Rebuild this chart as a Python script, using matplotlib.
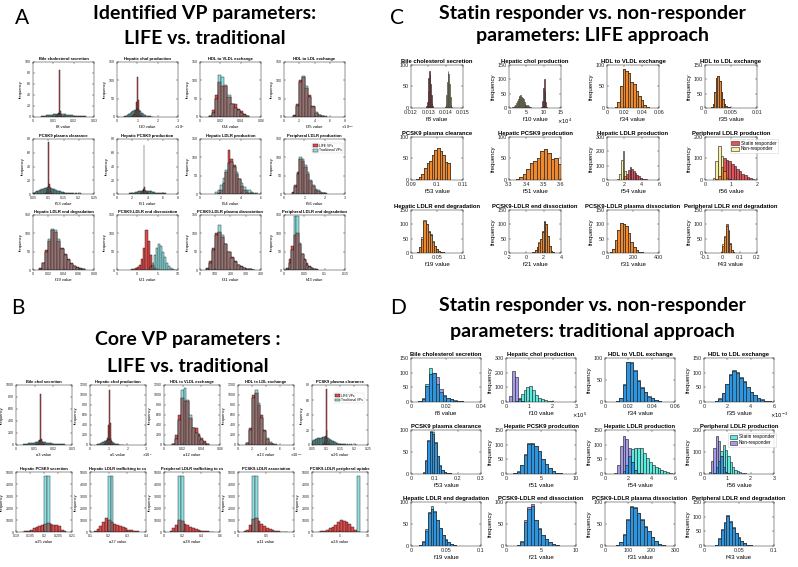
import numpy as np
import matplotlib
matplotlib.use('Agg')
import matplotlib.pyplot as plt
from matplotlib.patches import Patch

plt.rcParams['font.family'] = 'Liberation Sans'

# Figure size in pixels
W, H = 798, 567

# ---------------------------------------------------------------------------
# Panel A: identified VP parameters, LIFE (red) vs traditional (cyan)
# bins are (first edge, bin width)
# ---------------------------------------------------------------------------
a_titles = ['Bile cholesterol secretion', 'Hepatic chol production', 'HDL to VLDL exchange',
            'HDL to LDL exchange', 'PCSK9 plasma clearance', 'Hepatic PCSK9 production',
            'Hepatic LDLR production', 'Peripheral LDLR production', 'Hepatic LDLR end degradation',
            'PCSK9-LDLR end dissociation', 'PCSK9-LDLR plasma dissociation',
            'Peripheral LDLR end degradation']
a_xlabels = ['f8 value', 'f10 value', 'f34 value', 'f35 value', 'f53 value', 'f51 value',
             'f54 value', 'f56 value', 'f19 value', 'f21 value', 'f31 value', 'f43 value']
a_xticks = [[0, 0.01, 0.02, 0.03], [0, 1, 2, 3], [0, 0.02, 0.04, 0.06], [0, 2, 4, 6, 8],
            [0.05, 0.1, 0.15, 0.2, 0.25], [0, 2, 4, 6, 8], [0, 2, 4, 6], [0, 1, 2, 3],
            [0, 0.02, 0.04, 0.06, 0.08], [-5, 0, 5, 10], [0, 100, 200, 300, 400],
            [0, 0.05, 0.1, 0.15]]
a_yticks = [[0, 20, 40, 60, 80, 100], [0, 50, 100, 150], [0, 50, 100, 150], [0, 50, 100, 150],
            [0, 20, 40, 60, 80], [0, 20, 40, 60, 80], [0, 50, 100, 150], [0, 50, 100, 150],
            [0, 50, 100, 150], [0, 50, 100, 150], [0, 50, 100, 150], [0, 50, 100, 150]]
a_exps = [None, '5', None, '-3', None, None, None, None, None, None, None, None]
a_bins = [(0.004, 0.0005), (0.3, 0.05), (0.009, 0.003), (1.2, 0.4), (0.05, 0.0025), (1.6, 0.1),
          (1.5, 0.25), (0.375, 0.125), (0.008, 0.004), (-1.5, 0.5), (40, 20), (0.006, 0.006)]

a1_life = [0] * 14 + [1, 2, 4, 8, 85, 10, 4, 2, 1] + [0] * 21
a1_trad = [1, 1, 2, 2, 2, 3, 3, 3, 3, 4, 4, 4, 5, 5, 5, 5, 6, 6, 6, 6, 5, 5,
           5, 5, 4, 4, 4, 3, 3, 3, 3, 2, 2, 2, 2, 2, 1, 1, 1, 1, 1, 1, 1, 1]
a2_life = [0, 0, 0, 0, 0, 0, 0, 0, 0, 2, 5, 8, 15, 40, 110, 45, 15, 6, 3, 1,
           0, 0, 0, 0, 0, 0, 0, 0, 0, 0]
a2_trad = [1, 2, 3, 4, 5, 7, 9, 11, 13, 15, 16, 18, 19, 20, 21, 19, 17, 15, 12, 10,
           8, 6, 5, 4, 3, 2, 2, 1, 1, 1]
a3_life = [3, 20, 60, 95, 85, 85, 55, 35, 35, 22, 15, 8, 3]
a3_trad = [2, 12, 50, 115, 110, 88, 60, 35, 25, 18, 10, 5, 2]
a4_life = [5, 35, 100, 110, 80, 60, 30, 12, 5, 3, 1]
a4_trad = [4, 30, 95, 112, 85, 55, 28, 14, 6, 3, 2]
a5_life = [0] * 16 + [1, 2, 4, 8, 75, 15, 5, 2, 1] + [0] * 39
a5_trad = [2, 2, 3, 3, 4, 4, 5, 5, 6, 6, 7, 7, 8, 8, 8, 9, 9, 9, 10, 10, 10, 10,
           9, 9, 9, 8, 8, 7, 7, 6, 6, 5, 5, 5, 4, 4, 4, 3, 3, 3, 3, 2, 2, 2,
           2, 2, 1, 1, 1, 1, 1, 1, 1, 1, 0, 1, 0, 1, 0, 1, 0, 0, 1, 0]
a6_life = [0] * 15 + [1, 2, 4, 8, 72, 10, 4, 2, 1] + [0] * 24
a6_trad = [1, 1, 1, 2, 2, 2, 2, 3, 3, 3, 3, 4, 4, 4, 4, 5, 5, 5, 5, 6, 6, 5, 5, 5,
           5, 5, 4, 4, 4, 4, 3, 3, 3, 3, 2, 2, 2, 2, 2, 2, 1, 1, 1, 1, 1, 1, 1, 1]
a7_life = [0, 2, 10, 30, 60, 120, 95, 80, 55, 40, 22, 10, 5, 3, 2, 1, 0]
a7_trad = [5, 12, 25, 45, 65, 85, 88, 75, 60, 42, 30, 20, 12, 10, 6, 4, 2]
a8_life = [5, 25, 60, 95, 90, 75, 55, 35, 22, 12, 8, 4, 2, 1]
a8_trad = [3, 20, 55, 100, 95, 80, 60, 38, 25, 15, 10, 5, 3, 2]
a9_life = [5, 20, 55, 80, 110, 105, 80, 60, 45, 30, 20, 12, 8, 5, 3]
a9_trad = [3, 18, 50, 85, 112, 110, 85, 58, 40, 28, 16, 10, 5, 3, 2]
a10_life = [2, 3, 5, 8, 15, 30, 60, 110, 80, 40, 15, 5, 0, 0, 0, 0, 0, 0, 0, 0, 0, 0]
a10_trad = [0, 0, 0, 0, 0, 0, 0, 0, 0, 8, 20, 40, 60, 72, 65, 50, 35, 20, 10, 5, 3, 1]
a11_life = [5, 25, 60, 100, 105, 90, 70, 50, 35, 25, 15, 10, 6, 4, 2, 1]
a11_trad = [3, 20, 55, 95, 122, 95, 70, 50, 32, 22, 14, 8, 5, 3, 2, 1]
a12_life = [5, 30, 65, 95, 100, 70, 45, 30, 18, 10, 6, 4, 2]
a12_trad = [3, 20, 55, 148, 148, 75, 45, 28, 15, 8, 5, 3, 1]

# ---------------------------------------------------------------------------
# Panel B: core VP parameters
# ---------------------------------------------------------------------------
b_titles = ['Bile chol secretion', 'Hepatic chol production', 'HDL to VLDL exchange',
            'HDL to LDL exchange', 'PCSK9 plasma clearance', 'Hepatic PCSK9 secretion',
            'Hepatic LDLR trafficking to cs', 'Peripheral LDLR trafficking to cs',
            'PCSK9-LDLR association', 'PCSK9-LDLR peripheral uptake']
b_xlabels = ['a3 value', 'a5 value', 'a12 value', 'a13 value', 'a26 value',
             'a25 value', 'a27 value', 'a28 value', 'a11 value', 'a24 value']
b_xticks = [[0, 0.01, 0.02, 0.03], [0, 1, 2, 3], [0, 0.02, 0.04, 0.06], [0, 2, 4, 6, 8],
            [0.05, 0.1, 0.15, 0.2, 0.25], [0.19, 0.195, 0.2, 0.205, 0.21], [0.1, 0.2, 0.3, 0.4],
            [0, 0.2, 0.4, 0.6], [0, 0.5, 1], [0, 5, 10]]
b_yticks = [[0, 200, 400, 600, 800, 1000], [0, 200, 400, 600, 800, 1000, 1200],
            [0, 200, 400, 600, 800, 1000, 1200], [0, 200, 400, 600, 800, 1000, 1200],
            [0, 20, 40, 60, 80]] + [[0, 1000, 2000, 3000, 4000, 5000]] * 5
b_exps = [None, '5', None, '-3', None, None, None, None, None, None]
b_bins = [(0.004, 0.0005), (0.3, 0.05), (0.009, 0.003), (1.2, 0.4), (0.05, 0.0025),
          (0.192, 0.001), (0.12, 0.015), (0.06, 0.03), (0.1, 0.05), (0, 0.5)]

b1_life = [0] * 14 + [10, 20, 40, 80, 850, 100, 40, 20, 10] + [0] * 21
b1_trad = [10, 10, 20, 20, 20, 30, 30, 30, 30, 40, 40, 40, 50, 50, 50, 50, 60, 60, 60, 60, 50, 50,
           50, 50, 40, 40, 40, 30, 30, 30, 30, 20, 20, 20, 20, 20, 10, 10, 10, 10, 10, 10, 10, 10]
b2_life = [0, 0, 0, 0, 0, 0, 0, 0, 0, 20, 50, 80, 150, 400, 1100, 450, 150, 60, 30, 10,
           0, 0, 0, 0, 0, 0, 0, 0, 0, 0]
b2_trad = [5, 10, 15, 20, 25, 35, 45, 55, 65, 75, 80, 90, 95, 100, 105, 95, 85, 75, 60, 50,
           40, 30, 25, 20, 15, 10, 10, 5, 5, 5]
b3_life = [30, 200, 600, 950, 880, 880, 550, 350, 350, 220, 150, 80, 30]
b3_trad = [20, 120, 500, 1100, 1150, 900, 600, 350, 250, 180, 100, 50, 20]
b4_life = [50, 350, 1000, 1050, 800, 600, 300, 120, 50, 30, 10]
b4_trad = [40, 300, 950, 1100, 850, 550, 280, 140, 60, 30, 20]
b5_life = [0] * 16 + [1, 3, 6, 12, 75, 20, 6, 2, 1] + [0] * 39
b5_trad = [6, 6, 7, 7, 8, 8, 8, 9, 9, 9, 10, 10, 10, 10, 11, 11, 11, 11, 11, 11, 10, 10,
           9, 9, 8, 8, 7, 7, 6, 6, 5, 5, 4, 4, 3, 3, 3, 2, 2, 2, 2, 2, 1, 1,
           1, 1, 1, 1, 1, 0, 1, 0, 0, 1, 0, 0, 1, 0, 0, 0, 0, 0, 1, 0]
b6_life = [30, 60, 120, 200, 300, 400, 500, 600, 700, 750, 650, 550, 580, 500, 200, 50]
b6_trad = [0, 0, 0, 0, 0, 0, 0, 0, 4700, 4700, 0, 0, 0, 0, 0, 0]
b7_life = [100, 250, 500, 800, 1200, 1000, 800, 650, 600, 500, 400, 300, 200, 150, 100, 50]
b7_trad = [0, 0, 0, 0, 0, 4700, 4700, 0, 0, 0, 0, 0, 0, 0, 0, 0]
b8_life = [100, 300, 600, 1000, 950, 700, 550, 400, 300, 250, 180, 120, 80, 50, 30, 20]
b8_trad = [0, 0, 0, 4700, 4700, 0, 0, 0, 0, 0, 0, 0, 0, 0, 0, 0]
b9_life = [50, 200, 600, 1100, 1200, 900, 700, 500, 350, 250, 150, 100, 60, 40, 20, 10]
b9_trad = [0, 0, 0, 4700, 4700, 0, 0, 0, 0, 0, 0, 0, 0, 0, 0, 0]
b10_life = [0, 0, 20, 50, 100, 200, 300, 450, 600, 800, 1000, 950, 850, 700, 400, 150, 30, 0, 0, 0]
b10_trad = [0, 0, 0, 0, 0, 0, 0, 0, 0, 0, 0, 0, 0, 0, 0, 0, 4700, 0, 0, 0]

# ---------------------------------------------------------------------------
# Panels C and D: statin responder vs non-responder
# ---------------------------------------------------------------------------
cd_titles = ['Bile cholesterol secretion', 'Hepatic chol production', 'HDL to VLDL exchange',
             'HDL to LDL exchange', 'PCSK9 plasma clearance', 'Hepatic PCSK9 prodcution',
             'Hepatic LDLR production', 'Peripheral LDLR production',
             'Hepatic LDLR end degradation', 'PCSK9-LDLR end dissociation',
             'PCSK9-LDLR plasma dissociation', 'Peripheral LDLR end degradation']
cd_xlabels = a_xlabels

c_xticks = [[0.012, 0.013, 0.014, 0.015], [0, 5, 10, 15], [0, 0.02, 0.04, 0.06], [0, 0.005, 0.01],
            [0.09, 0.1, 0.11], [3.3, 3.4, 3.5, 3.6], [0, 2, 4, 6], [0, 1, 2],
            [0, 0.05, 0.1], [-2, 0, 2, 4], [0, 200, 400], [-0.1, 0, 0.1, 0.2]]
c_yticks = [[0, 50, 100], [0, 50, 100, 150], [0, 50, 100], [0, 50, 100, 150],
            [0, 50, 100], [0, 50, 100], [0, 100, 200, 300], [0, 100, 200],
            [0, 50, 100, 150], [0, 50, 100, 150], [0, 50, 100, 150], [0, 50, 100, 150]]
c_exps = [None, '4', None, None, None, None, None, None, None, None, None, None]
c_bins = [(0.01284, 0.00004), (1.0, 0.25), (0.009, 0.003), (0.0012, 0.0003), (0.092, 0.001),
          (3.34, 0.02), (1.2, 0.2), (0.3, 0.1), (0.012, 0.004), (0.6, 0.2), (20, 20),
          (-0.01, 0.01)]

c1_res = [2, 5, 15, 40, 70, 85, 80, 55, 30, 12, 4] + [0] * 27
c1_non = [0] * 28 + [3, 10, 30, 60, 85, 80, 55, 25, 8, 2]
c2_res = [0] * 33 + [5, 25, 70, 100, 60, 20, 5]
c2_non = [2, 4, 8, 12, 18, 25, 30, 38, 42, 45, 40, 35, 30, 20, 15, 12, 8, 10, 8, 4, 2, 1] + [0] * 18
c3_res = [2, 15, 50, 90, 85, 82, 60, 55, 40, 28, 18, 8, 3]
c3_non = [2, 15, 50, 90, 85, 82, 60, 55, 40, 28, 18, 8, 3]
c4_res = [3, 15, 55, 105, 112, 95, 55, 30, 15, 8, 5, 3, 1]
c4_non = [3, 15, 55, 105, 112, 95, 55, 30, 15, 8, 5, 3, 1]
c5_res = [3, 8, 15, 28, 40, 45, 58, 70, 75, 68, 58, 42, 40]
c5_non = [3, 8, 15, 28, 40, 45, 58, 70, 75, 68, 58, 42, 40]
c6_res = [3, 8, 15, 25, 40, 45, 50, 68, 72, 62, 48, 52, 38]
c6_non = [3, 8, 15, 25, 40, 45, 50, 68, 72, 62, 48, 52, 38]
c7_res = [0, 0, 0, 5, 25, 45, 70, 90, 80, 65, 50, 35, 25, 15, 10, 6, 4, 2]
c7_non = [10, 40, 140, 200, 60, 15, 3] + [0] * 11
c8_res = [0, 5, 20, 60, 100, 95, 90, 75, 65, 50, 40, 30, 22, 15, 10, 5]
c8_non = [10, 90, 160, 110, 40, 10, 3] + [0] * 9
c9_res = [5, 20, 50, 110, 100, 75, 65, 40, 25, 15, 8, 5, 3, 1]
c9_non = [5, 22, 55, 115, 100, 72, 62, 42, 25, 14, 8, 5, 3, 1]
c10_res = [2, 5, 10, 20, 35, 50, 75, 110, 100, 60, 25, 8, 3]
c10_non = [2, 5, 12, 22, 38, 48, 72, 108, 100, 58, 25, 8, 3]
c11_res = [3, 15, 45, 80, 105, 100, 95, 70, 40, 20, 10, 5, 2]
c11_non = [3, 15, 45, 80, 105, 100, 95, 70, 40, 20, 10, 5, 2]
c12_res = [3, 25, 55, 100, 80, 35, 12, 3]
c12_non = [5, 30, 60, 95, 75, 30, 10, 3]

d_xticks = [[0, 0.02, 0.04], [0, 1, 2, 3], [0, 0.02, 0.04, 0.06], [0, 2, 4, 6],
            [0, 0.1, 0.2, 0.3], [0, 5, 10], [0, 2, 4, 6], [0, 1, 2, 3],
            [0, 0.05, 0.1], [0, 5, 10], [0, 100, 200, 300], [0, 0.05, 0.1]]
d_yticks = [[0, 50, 100, 150], [0, 100, 200, 300], [0, 50, 100], [0, 50, 100, 150],
            [0, 50, 100], [0, 50, 100, 150], [0, 50, 100, 150], [0, 100, 200],
            [0, 50, 100], [0, 50, 100], [0, 50, 100], [0, 50, 100, 150]]
d_exps = [None, '5', None, '-3', None, None, None, None, None, None, None, None]
d_bins = [(0.004, 0.002), (0.125, 0.125), (0.009, 0.003), (0.9, 0.3), (0.05, 0.01),
          (1.0, 0.5), (0.75, 0.25), (0.2, 0.1), (0.012, 0.004), (1.5, 0.5), (45, 15),
          (0.016, 0.004)]

d1_res = [2, 12, 60, 115, 100, 60, 35, 20, 15, 10, 6, 4, 2, 1]
d1_non = [2, 10, 55, 95, 100, 85, 45, 25, 15, 10, 5, 3, 2, 1]
d2_res = [0, 0, 5, 20, 55, 80, 105, 110, 85, 50, 30, 20, 12, 8, 5, 3]
d2_non = [40, 210, 170, 30, 5] + [0] * 11
d3_res = [2, 10, 40, 90, 88, 70, 50, 35, 22, 12, 8, 4, 2]
d3_non = [2, 8, 38, 92, 92, 72, 48, 32, 22, 14, 8, 5, 2]
d4_res = [3, 10, 30, 60, 95, 108, 100, 85, 70, 50, 35, 25, 15, 8, 5, 3]
d4_non = [3, 12, 32, 62, 92, 105, 102, 82, 68, 52, 33, 24, 14, 9, 5, 3]
d5_res = [3, 30, 75, 98, 95, 70, 40, 20, 10, 5, 2, 3, 1]
d5_non = [4, 32, 78, 95, 92, 72, 42, 18, 9, 5, 2, 2, 1]
d6_res = [3, 8, 30, 65, 105, 105, 95, 80, 50, 35, 22, 10, 3, 2, 1]
d6_non = [3, 9, 32, 68, 102, 103, 97, 78, 52, 33, 20, 11, 3, 2, 1]
d7_res = [0, 0, 0, 10, 30, 60, 85, 88, 90, 88, 70, 55, 40, 30, 25, 20, 15, 10, 6, 4]
d7_non = [5, 30, 95, 130, 120, 90, 40, 15, 5, 2] + [0] * 10
d8_res = [0, 0, 5, 30, 60, 105, 130, 110, 80, 55, 30, 20, 12, 8, 5, 3, 2, 1]
d8_non = [10, 60, 120, 175, 150, 80, 30, 10, 3] + [0] * 9
d9_res = [2, 10, 35, 75, 90, 78, 60, 40, 25, 15, 8, 4, 2]
d9_non = [2, 12, 38, 78, 85, 80, 58, 42, 24, 14, 8, 4, 2]
d10_res = [2, 10, 55, 85, 92, 60, 40, 25, 15, 8, 5, 2]
d10_non = [2, 12, 58, 88, 95, 58, 38, 24, 15, 8, 4, 2]
d11_res = [2, 8, 25, 60, 90, 88, 75, 62, 45, 35, 20, 12, 5, 2]
d11_non = [2, 9, 27, 62, 88, 86, 76, 60, 44, 33, 21, 11, 5, 2]
d12_res = [5, 25, 55, 80, 105, 85, 65, 45, 30, 18, 10, 5, 2]
d12_non = [5, 27, 58, 82, 102, 83, 63, 46, 28, 17, 10, 5, 2]

a_s1 = [a1_life, a2_life, a3_life, a4_life, a5_life, a6_life, a7_life, a8_life,
        a9_life, a10_life, a11_life, a12_life]
a_s2 = [a1_trad, a2_trad, a3_trad, a4_trad, a5_trad, a6_trad, a7_trad, a8_trad,
        a9_trad, a10_trad, a11_trad, a12_trad]
b_s1 = [b1_life, b2_life, b3_life, b4_life, b5_life, b6_life, b7_life, b8_life, b9_life, b10_life]
b_s2 = [b1_trad, b2_trad, b3_trad, b4_trad, b5_trad, b6_trad, b7_trad, b8_trad, b9_trad, b10_trad]
c_s1 = [c1_res, c2_res, c3_res, c4_res, c5_res, c6_res, c7_res, c8_res,
        c9_res, c10_res, c11_res, c12_res]
c_s2 = [c1_non, c2_non, c3_non, c4_non, c5_non, c6_non, c7_non, c8_non,
        c9_non, c10_non, c11_non, c12_non]
d_s1 = [d1_res, d2_res, d3_res, d4_res, d5_res, d6_res, d7_res, d8_res,
        d9_res, d10_res, d11_res, d12_res]
d_s2 = [d1_non, d2_non, d3_non, d4_non, d5_non, d6_non, d7_non, d8_non,
        d9_non, d10_non, d11_non, d12_non]

# colours: (series 1 only, series 2 only, overlap)
AB_COLS = ('#e04a4a', '#8fe0e0', '#957272')
C_COLS = ('#e5505a', '#f7f09c', '#f0892e')
D_COLS = ('#5aebe1', '#a59beb', '#2e96e0')


def px_axes(fig, left, top, w, h):
    return fig.add_axes([left / W, 1 - (top + h) / H, w / W, h / H])


def hist_pair(ax, bins, s1, s2, cols, edge, lw):
    start, width = bins
    s1 = np.asarray(s1, float)
    s2 = np.asarray(s2, float)
    x = start + width * np.arange(len(s1))
    ov = np.minimum(s1, s2)
    for vals, col in ((s1, cols[0]), (s2, cols[1]), (ov, cols[2])):
        m = vals > 0
        ax.bar(x[m], vals[m], width, align='edge', color=col, edgecolor=edge, linewidth=lw)


def style(ax, xt, yt, title, xlabel, ylab, exp, fs):
    ft, fk, fl = fs
    ax.set_xlim(xt[0], xt[-1])
    ax.set_ylim(yt[0], yt[-1])
    ax.set_xticks(xt)
    ax.set_xticklabels([f'{v:g}' for v in xt])
    ax.set_yticks(yt)
    ax.set_yticklabels([f'{v:g}' for v in yt])
    ax.tick_params(direction='in', length=1.2, width=0.3, labelsize=fk, pad=1.6,
                   top=True, right=True, colors='#262626')
    for sp in ax.spines.values():
        sp.set_linewidth(0.35)
        sp.set_color('#262626')
    ax.set_title(title, fontsize=ft, fontweight='bold', pad=1.5)
    ax.set_xlabel(xlabel, fontsize=fl, labelpad=1)
    if ylab:
        ax.set_ylabel('frequency', fontsize=fl, labelpad=1)
    if exp:
        ax.annotate(rf'$\times10^{{{exp}}}$', xy=(1.0, 0), xycoords='axes fraction',
                    xytext=(-3, -(3 + 1.2 * fk + 0.4 * fl)), textcoords='offset points',
                    fontsize=fl * 0.85, ha='left', va='center')


def draw_panel(fig, lefts, tops, w, h, ncol, titles, xlabels, bins, s1, s2,
               xticks, yticks, exps, cols, edge, lw, fs, ylab_from):
    axes = []
    for i in range(len(titles)):
        r, c = divmod(i, ncol)
        ax = px_axes(fig, lefts[c], tops[r], w, h)
        hist_pair(ax, bins[i], s1[i], s2[i], cols, edge, lw)
        style(ax, xticks[i], yticks[i], titles[i], xlabels[i], c >= ylab_from, exps[i], fs)
        axes.append(ax)
    return axes


fig = plt.figure(figsize=(W / 100, H / 100), dpi=100)

axA = draw_panel(fig, [33, 117, 200, 284], [62, 139, 215], 61, 55, 4, a_titles, a_xlabels,
                 a_bins, a_s1, a_s2, a_xticks, a_yticks, a_exps, AB_COLS, '#1a1a1a', 0.3,
                 (3.0, 2.6, 3.0), 0)
axB = draw_panel(fig, [16, 90, 164, 238, 312], [385, 472], 56, 60, 5, b_titles, b_xlabels,
                 b_bins, b_s1, b_s2, b_xticks, b_yticks, b_exps, AB_COLS, '#1a1a1a', 0.3,
                 (2.9, 2.5, 2.9), 0)
axC = draw_panel(fig, [411, 509, 607, 705], [65, 137, 210], 52, 43, 4, cd_titles, cd_xlabels,
                 c_bins, c_s1, c_s2, c_xticks, c_yticks, c_exps, C_COLS, '#2a2a2a', 0.45,
                 (4.2, 3.9, 4.4), 1)
axD = draw_panel(fig, [411, 506, 605, 704], [358, 430, 502], 70, 44, 4, cd_titles, cd_xlabels,
                 d_bins, d_s1, d_s2, d_xticks, d_yticks, d_exps, D_COLS, '#2a2a2a', 0.45,
                 (4.2, 3.9, 4.4), 1)

# legends
leg_kw = dict(frameon=True, fancybox=False, handlelength=1.6, handleheight=0.9,
              borderpad=0.3, labelspacing=0.15, handletextpad=0.4, borderaxespad=0)
for ax, fsz, anchor in ((axA[7], 2.4, (0.97, 0.93)), (axB[4], 2.3, (0.93, 0.87))):
    lg = ax.legend([Patch(fc=AB_COLS[0], ec='#1a1a1a', lw=0.3), Patch(fc=AB_COLS[1], ec='#1a1a1a', lw=0.3)],
                   ['LIFE VPs', 'Traditional VPs'], loc='upper right', bbox_to_anchor=anchor,
                   fontsize=fsz, **leg_kw)
    lg.get_frame().set_linewidth(0.3)
for ax, cols, anchor in ((axC[7], C_COLS, (1.40, 0.95)), (axD[7], D_COLS, (1.03, 0.93))):
    lg = ax.legend([Patch(fc=cols[0], ec='#2a2a2a', lw=0.4), Patch(fc=cols[1], ec='#2a2a2a', lw=0.4)],
                   ['Statin responder', 'Non-responder'], loc='upper right', bbox_to_anchor=anchor,
                   fontsize=3.4, **leg_kw)
    lg.get_frame().set_linewidth(0.4)

# panel letters and headings
big = dict(family='Lato', fontweight='bold', fontsize=14, ha='center', va='center')
letter = dict(family='Lato', fontsize=15, ha='left', va='center')
fig.text(15 / W, 1 - 18 / H, 'A', **letter)
fig.text(11 / W, 1 - 308 / H, 'B', **letter)
fig.text(390 / W, 1 - 18 / H, 'C', **letter)
fig.text(390 / W, 1 - 308 / H, 'D', **letter)

fig.text(205 / W, 1 - 13 / H, 'Identified VP parameters:', **big)
fig.text(205 / W, 1 - 39 / H, 'LIFE vs. traditional', **big)
fig.text(188 / W, 1 - 340 / H, 'Core VP parameters :', **big)
fig.text(188 / W, 1 - 366 / H, 'LIFE vs. traditional', **big)
fig.text(592 / W, 1 - 13 / H, 'Statin responder vs. non-responder', **big)
fig.text(592 / W, 1 - 36 / H, 'parameters: LIFE approach', **big)
fig.text(592 / W, 1 - 306 / H, 'Statin responder vs. non-responder', **big)
fig.text(592 / W, 1 - 331 / H, 'parameters: traditional approach', **big)

fig.savefig('out.png', dpi=100, facecolor='white')
